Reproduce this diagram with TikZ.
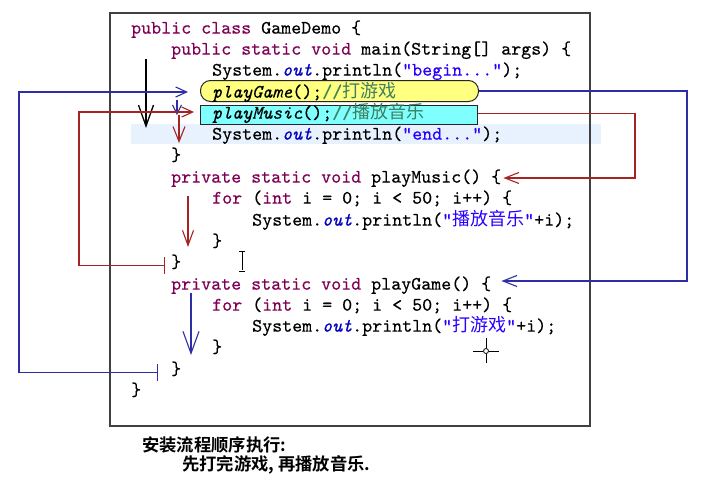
\documentclass[tikz,border=0pt]{standalone}
\usepackage{fontspec}
\usepackage{tikz}
\usetikzlibrary{arrows.meta, positioning}
\tikzset{x=1pt,y=-1pt, >={Straight Barb[length=14pt,width=11pt]}}
\newfontfamily\codefont{lmmono10-regular.otf}[ItalicFont=lmmono10-italic.otf, FakeBold=0.35]
\newfontfamily\cjkfont{Noto Sans CJK SC}
\newfontfamily\cjkbold{Noto Sans CJK SC Bold}

\begin{document}
\begin{tikzpicture}
% Style
[
    code/.style={anchor=mid west, inner sep=0pt, yshift=-3.5pt, font=\codefont\fontsize{19.05}{21}\selectfont},
    note/.style={anchor=west, inner sep=0pt, font=\cjkbold\fontsize{17.3}{20}\selectfont},
    call box/.style={anchor=north west, minimum width=278pt, minimum height=21pt, draw=black!85, line width=1pt},
    flow line/.style={line width=1.1pt},
    back tick/.style={flow line, {Bar[width=17pt]}-{Straight Barb[length=11pt,width=10pt]}}
]

% Define: Colors
\definecolor{keyword}{RGB}{127,0,85}
\definecolor{string}{RGB}{42,0,255}
\definecolor{field}{RGB}{0,0,192}
\definecolor{comment}{RGB}{63,127,95}
\definecolor{game_fill}{RGB}{255,255,128}
\definecolor{music_fill}{RGB}{128,255,255}
\definecolor{current_line}{RGB}{232,242,254}
\definecolor{flow_blue}{RGB}{45,45,165}
\definecolor{flow_red}{RGB}{165,35,35}
\colorlet{frame_color}{black!75}

%================================== Prepare ==================================
\def\kw#1{\textcolor{keyword}{#1}}
\def\str#1{\textcolor{string}{#1}}
\def\fld#1{\textcolor{field}{\itshape #1}}
\def\cmt#1{\textcolor{comment}{#1}}
\def\zh#1{{\cjkfont\fontsize{18}{21}\selectfont #1}}

%=================================== Start ===================================
{
    \useasboundingbox [fill=white] (0,0) rectangle (714,479);

    % Draw: Frame
    \fill [current_line] (131,124) rectangle (601,144);
    \draw [frame_color, line width=1.3pt] (110,13) rectangle (590,426);

    % Draw: Call boxes
    \node [call box, fill=game_fill, rounded corners=10pt] (gamebox) at (200,80) {};
    \node [call box, fill=music_fill, minimum width=277pt, minimum height=19pt, line width=1.3pt] (musicbox) at (200,105) {};

    % Draw: Code
    \node [code] (cls)        at (131,28)  {\kw{public class} GameDemo \{};
    \node [code] (mainsig)    at (171,49)  {\kw{public static void} main(String[] args) \{};
    \node [code] (begin)      at (212,70)  {System.\fld{out}.println(\str{"begin..."});};
    \node [code] (callgame)   at (212,92)  {\textit{playGame}();\cmt{//\zh{打游戏}}};
    \node [code] (callmusic)  at (212,113) {\textit{playMusic}();\cmt{//\zh{播放音乐}}};
    \node [code] (endline)    at (212,134) {System.\fld{out}.println(\str{"end..."});};
    \node [code] (musicsig)   at (171,177) {\kw{private static void} playMusic() \{};
    \node [code] (musicfor)   at (212,198) {\kw{for} (\kw{int} i = 0; i < 50; i++) \{};
    \node [code] (musicprint) at (252,220) {System.\fld{out}.println(\str{"\zh{播放音乐}"}+i);};
    \node [code] (gamesig)    at (171,284) {\kw{private static void} playGame() \{};
    \node [code] (gamefor)    at (212,305) {\kw{for} (\kw{int} i = 0; i < 50; i++) \{};
    \node [code] (gameprint)  at (252,326) {System.\fld{out}.println(\str{"\zh{打游戏}"}+i);};
    \foreach \name/\x/\y in {mainclose/171/155, musicforclose/212/241, musicclose/171/262,
                             gameforclose/212/347, gameclose/171/369, clsclose/131/390} {
        \node [code] (\name) at (\x,\y) {\}};
    }

    % Draw: Note
    \node [note] (note1) at (142,444.5) {安装流程顺序执行:};
    \node [note] (note2) at (182,464.5) {先打完游戏,\kern4pt再播放音乐.};

    % Define: Turning points
    \coordinate (mainstart) at (146,59);
    \coordinate (mainstop)  at (146,128);
    \coordinate (gameturn)  at (687,281);
    \coordinate (musicturn) at (635,178);
    \coordinate (gameback)  at (19,92);
    \coordinate (musicback) at (79,112);
    \coordinate (gamedrop)  at (177,100);
    \coordinate (musicdrop) at (179,115);
    \coordinate (endstop)   at (179,143);
    \coordinate (musicrun)  at (188,196);
    \coordinate (musicend)  at (188,247);
    \coordinate (gamerun)   at (191,293);
    \coordinate (gameend)   at (191,355);

    % Draw: main flow
    \draw [line width=1.3pt, -{Straight Barb[length=21pt,width=15pt]}] (mainstart) -- (mainstop);

    % Draw: playGame
    \draw [flow line, flow_blue, ->] (gamebox.east) -| (gameturn) -- ([xshift=10pt]gamesig.east |- gameturn);
    \draw [flow line, flow_blue, -{Straight Barb[length=22pt,width=16pt]}] (gamerun) -- (gameend);
    \draw [back tick, flow_blue] ([xshift=-13pt]gameclose.mid west) -| (gameback) -- ([xshift=-12pt]gamebox.west |- gameback);
    \draw [flow line, flow_blue, -{Straight Barb[length=9pt,width=9pt]}] (gamedrop) -- (gamedrop |- musicbox.west);

    % Draw: playMusic
    \draw [flow line, flow_red, ->] ([yshift=2pt]musicbox.east) -| (musicturn) -- ([xshift=2pt]musicsig.east |- musicturn);
    \draw [flow line, flow_red, -{Straight Barb[length=15pt,width=11pt]}] (musicrun) -- (musicend);
    \draw [back tick, flow_red] ([xshift=-6pt]musicclose.mid west) -| (musicback) -- ([xshift=-6pt]musicbox.west |- musicback);
    \draw [flow line, flow_red, -{Straight Barb[length=15pt,width=12pt]}] (musicdrop) -- (endstop);

    % Draw: Cursors
    \draw [line width=1pt] (242,252) -- (242,270) (239,251) -- (245,251) (239,271) -- (245,271);
    \draw [line width=1pt] (473,351) -- (483,351) (489,351) -- (499,351)
                           (486,338) -- (486,348) (486,354) -- (486,363);
    \draw [line width=0.8pt] (486,351) circle [radius=2.5];
}
%==================================== END ====================================
\end{tikzpicture}
\end{document}
